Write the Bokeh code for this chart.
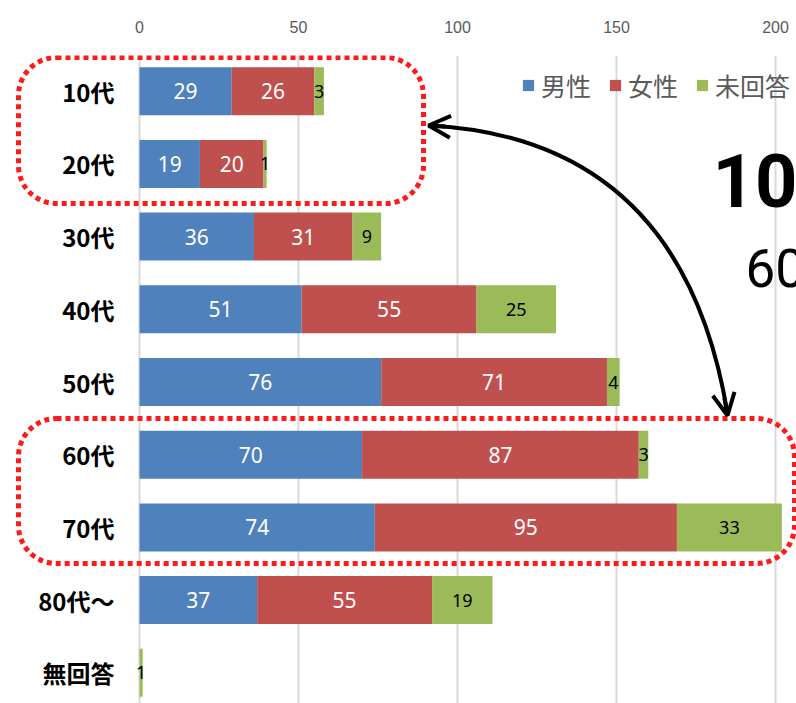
from bokeh.plotting import figure
from bokeh.models import (ColumnDataSource, Range1d, FixedTicker, LinearAxis, Legend,
                          LegendItem, BoxAnnotation, Arrow, OpenHead, Label)
from bokeh.core.properties import value
from bokeh.embed import file_html
from bokeh.resources import INLINE

# ---------------- data ----------------
categories = ["10代", "20代", "30代", "40代", "50代", "60代", "70代", "80代～", "無回答"]
male = [29, 19, 36, 51, 76, 70, 74, 37, 0]
female = [26, 20, 31, 55, 71, 87, 95, 55, 0]
no_answer = [3, 1, 9, 25, 4, 3, 33, 19, 1]
series_names = ["男性", "女性", "未回答"]
x_ticks = [0, 50, 100, 150, 200]
big_text_1 = "10"
big_text_2 = "60"

colors = ["#4f81bd", "#c0504d", "#9bbb59"]

# ---------------- layout ----------------
W, H = 796, 703
X0 = 139.0        # canvas px of value 0
PXU = 3.18        # px per unit
Y0 = 90.7         # canvas px of first category centre
ROW = 72.7        # px per category row
TOP = 55          # frame top in canvas px


def px2x(px):
    return (px - X0) / PXU


def px2y(py):
    return (py - Y0) / ROW


x_range = Range1d(-X0 / PXU, (W - X0) / PXU)
y_range = Range1d((H - Y0) / ROW, (TOP - Y0) / ROW)

p = figure(width=W, height=H, x_range=x_range, y_range=y_range,
           output_backend="svg", toolbar_location=None,
           x_axis_location=None, y_axis_location=None)
p.min_border = 0
p.min_border_top = TOP
p.outline_line_color = None
p.background_fill_color = "white"

# top axis
ax = LinearAxis(ticker=FixedTicker(ticks=x_ticks))
ax.axis_line_color = None
ax.major_tick_line_color = None
ax.minor_tick_line_color = None
ax.major_tick_out = 0
ax.major_label_standoff = 23
ax.major_label_text_font = "Liberation Sans"
ax.major_label_text_font_size = "16px"
ax.major_label_text_color = "#595959"
p.add_layout(ax, "above")

p.xgrid.ticker = FixedTicker(ticks=x_ticks)
p.xgrid.grid_line_color = "#d9d9d9"
p.xgrid.grid_line_width = 2
p.ygrid.grid_line_color = None

ys = list(range(len(categories)))
src = ColumnDataSource(dict(y=ys, male=male, female=female, no_answer=no_answer))
rs = p.hbar_stack(["male", "female", "no_answer"], y="y", height=0.66,
                  color=colors, source=src, line_color=None)

# segment labels
lx, ly, lt, gx, gy, gt = [], [], [], [], [], []
for i in range(len(categories)):
    a, b, c = male[i], female[i], no_answer[i]
    if a:
        lx.append(a / 2); ly.append(i); lt.append(str(a))
    if b:
        lx.append(a + b / 2); ly.append(i); lt.append(str(b))
    if c:
        gx.append(a + b + c / 2); gy.append(i); gt.append(str(c))

p.text(x=lx, y=ly, text=lt, text_align="center", text_baseline="middle",
       text_color="white", text_font=value("Noto Sans"), text_font_size="21px")
p.text(x=gx, y=gy, text=gt, text_align="center", text_baseline="middle",
       text_color="black", text_font=value("Noto Sans"), text_font_size="18px")

# category labels
p.text(x=[0] * len(categories), y=ys, text=categories, x_offset=-25,
       text_align="right", text_baseline="middle", text_color="black",
       text_font=value("Noto Sans CJK JP"), text_font_style="bold",
       text_font_size="24px")

# legend
legend = Legend(items=[LegendItem(label=n, renderers=[r]) for n, r in zip(series_names, rs)],
                orientation="horizontal", location=(521, 600),
                glyph_width=14, glyph_height=14, label_height=26,
                label_text_font="Noto Sans CJK JP", label_text_font_size="25px",
                label_text_color="#595959", label_standoff=6, spacing=17,
                padding=0, margin=0, border_line_color=None,
                background_fill_alpha=0)
p.add_layout(legend)

# dotted rounded rectangles
for (l, r, t, b) in [(18, 423, 57, 203), (18, 794, 418, 563)]:
    p.add_layout(BoxAnnotation(left=px2x(l), right=px2x(r), top=px2y(t), bottom=px2y(b),
                               fill_color=None, fill_alpha=0, line_color="#ff1a1a",
                               line_alpha=1.0, line_width=5, line_dash="5 4",
                               border_radius=38))

# curved double arrow
p.quadratic(x0=[px2x(430)], y0=[px2y(125)], x1=[px2x(727)], y1=[px2y(413)],
            cx=[px2x(682)], cy=[px2y(139)], line_color="black", line_width=4)
p.add_layout(Arrow(end=OpenHead(size=22, line_width=4, line_color="black"),
                   x_start=px2x(445), y_start=px2y(126), x_end=px2x(428), y_end=px2y(125),
                   line_width=4, line_color="black"))
p.add_layout(Arrow(end=OpenHead(size=22, line_width=4, line_color="black"),
                   x_start=px2x(724), y_start=px2y(398), x_end=px2x(727), y_end=px2y(415),
                   line_width=4, line_color="black"))

# big texts
p.add_layout(Label(x=px2x(712), y=px2y(180), text=big_text_1, text_font="Roboto",
                   text_font_style="bold", text_font_size="74px", text_color="black",
                   text_baseline="alphabetic"))
p.add_layout(Label(x=px2x(745), y=px2y(267), text=big_text_2, text_font="Roboto",
                   text_font_size="53px", text_color="black",
                   text_baseline="alphabetic"))

open("out.html", "w").write(file_html(p, INLINE))
